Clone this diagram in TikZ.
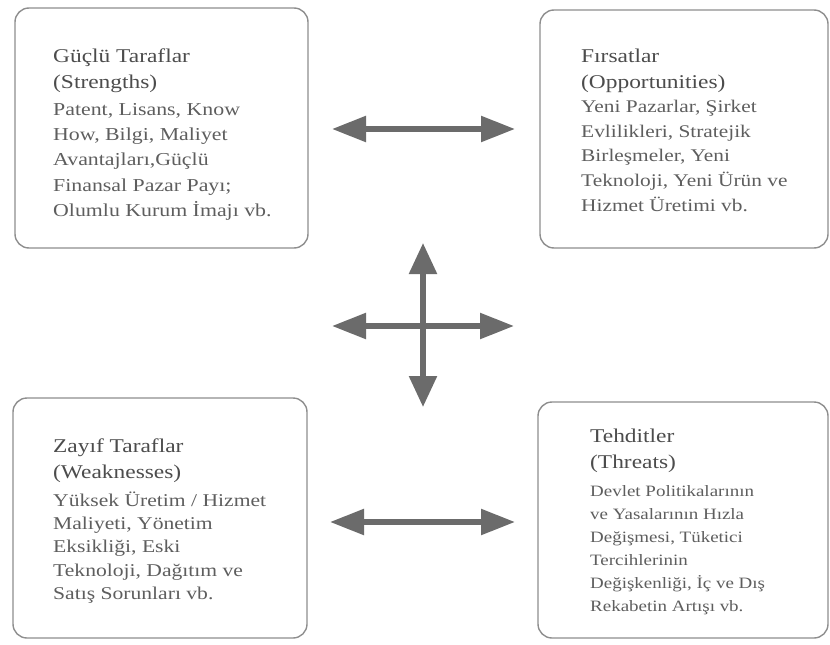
\documentclass[tikz,border=0pt]{standalone}
\usepackage{fontspec}
\setmainfont[FakeStretch=1.2]{Liberation Serif}
\usetikzlibrary{arrows.meta}
\definecolor{framegray}{HTML}{8E8E8E}
\definecolor{arrowgray}{HTML}{6B6B6B}
\definecolor{headgray}{HTML}{4C4C4C}
\definecolor{bodygray}{HTML}{5E5E5E}
\newcommand{\lead}[1]{\rule{0pt}{#1}}
\begin{document}
\begin{tikzpicture}[x=1pt,y=-1pt,
  swotbox/.style={draw=framegray, line width=1.4pt, rounded corners=14pt, fill=white, inner sep=0pt},
  boxtitle/.style={anchor=north west, inner sep=0pt, align=left, text=headgray,
    font=\fontsize{19.5}{26}\selectfont},
  boxbody/.style 2 args={anchor=north west, inner sep=0pt, align=left, text=bodygray,
    font=\fontsize{#1}{#2}\selectfont},
  twoway/.style={draw=arrowgray, line width=5.5pt,
    {Triangle[length=34pt,width=25pt]}-{Triangle[length=34pt,width=25pt]}},
  oneway/.style={draw=arrowgray, line width=5.5pt,
    -{Triangle[length=31pt,width=27pt]}}]
\useasboundingbox (0,0) rectangle (830,645);

% the four SWOT boxes
\node[swotbox, minimum width=293pt, minimum height=240pt] (S) at (161.5,128) {};
\node[swotbox, minimum width=288pt, minimum height=238pt] (O) at (684,129) {};
\node[swotbox, minimum width=294pt, minimum height=240pt] (W) at (160,518) {};
\node[swotbox, minimum width=290pt, minimum height=236pt] (T) at (683,520) {};

% box texts
\node[boxtitle] (Sh) at (53,44) {\lead{18pt}Güçlü Taraflar\\(Strengths)};
\node[boxbody={18.2}{25.3}] (Sb) at (53,98) {\lead{17pt}Patent, Lisans, Know\\How, Bilgi, Maliyet\\Avantajları,Güçlü\\Finansal Pazar Payı;\\Olumlu Kurum İmajı vb.};

\node[boxtitle] (Oh) at (581,44) {\lead{18pt}Fırsatlar\\(Opportunities)};
\node[boxbody={17.8}{24.8}] (Ob) at (581,95) {\lead{17pt}Yeni Pazarlar, Şirket\\Evlilikleri, Stratejik\\Birleşmeler, Yeni\\Teknoloji, Yeni Ürün ve\\Hizmet Üretimi vb.};

\node[boxtitle] (Wh) at (53,434) {\lead{18pt}Zayıf Taraflar\\(Weaknesses)};
\node[boxbody={18}{23.3}] (Wb) at (53,489) {\lead{17pt}Yüksek Üretim / Hizmet\\Maliyeti, Yönetim\\Eksikliği, Eski\\Teknoloji, Dağıtım ve\\Satış Sorunları vb.};

\node[boxtitle] (Th) at (590,424) {\lead{18pt}Tehditler\\(Threats)};
\node[boxbody={15.8}{23}] (Tb) at (590,479) {\lead{17pt}Devlet Politikalarının\\ve Yasalarının Hızla\\Değişmesi, Tüketici\\Tercihlerinin\\Değişkenliği, İç ve Dış\\Rekabetin Artışı vb.};

% arrow end points
\coordinate (topL) at (332,129);
\coordinate (topR) at (515,129);
\coordinate (botL) at (330,522);
\coordinate (botR) at (515,522);
\coordinate (midL) at (332,326);
\coordinate (midR) at (514,326);
\coordinate (midU) at (423,243);
\coordinate (midD) at (423,407);
\coordinate (mid) at (423,326);

% arrows
\draw[twoway] (topL) -- (topR);
\draw[twoway] (botL) -- (botR);
\draw[twoway] (midL) -- (midR);
\draw[oneway] (mid) -- (midU);
\draw[oneway] (mid) -- (midD);
\end{tikzpicture}
\end{document}
